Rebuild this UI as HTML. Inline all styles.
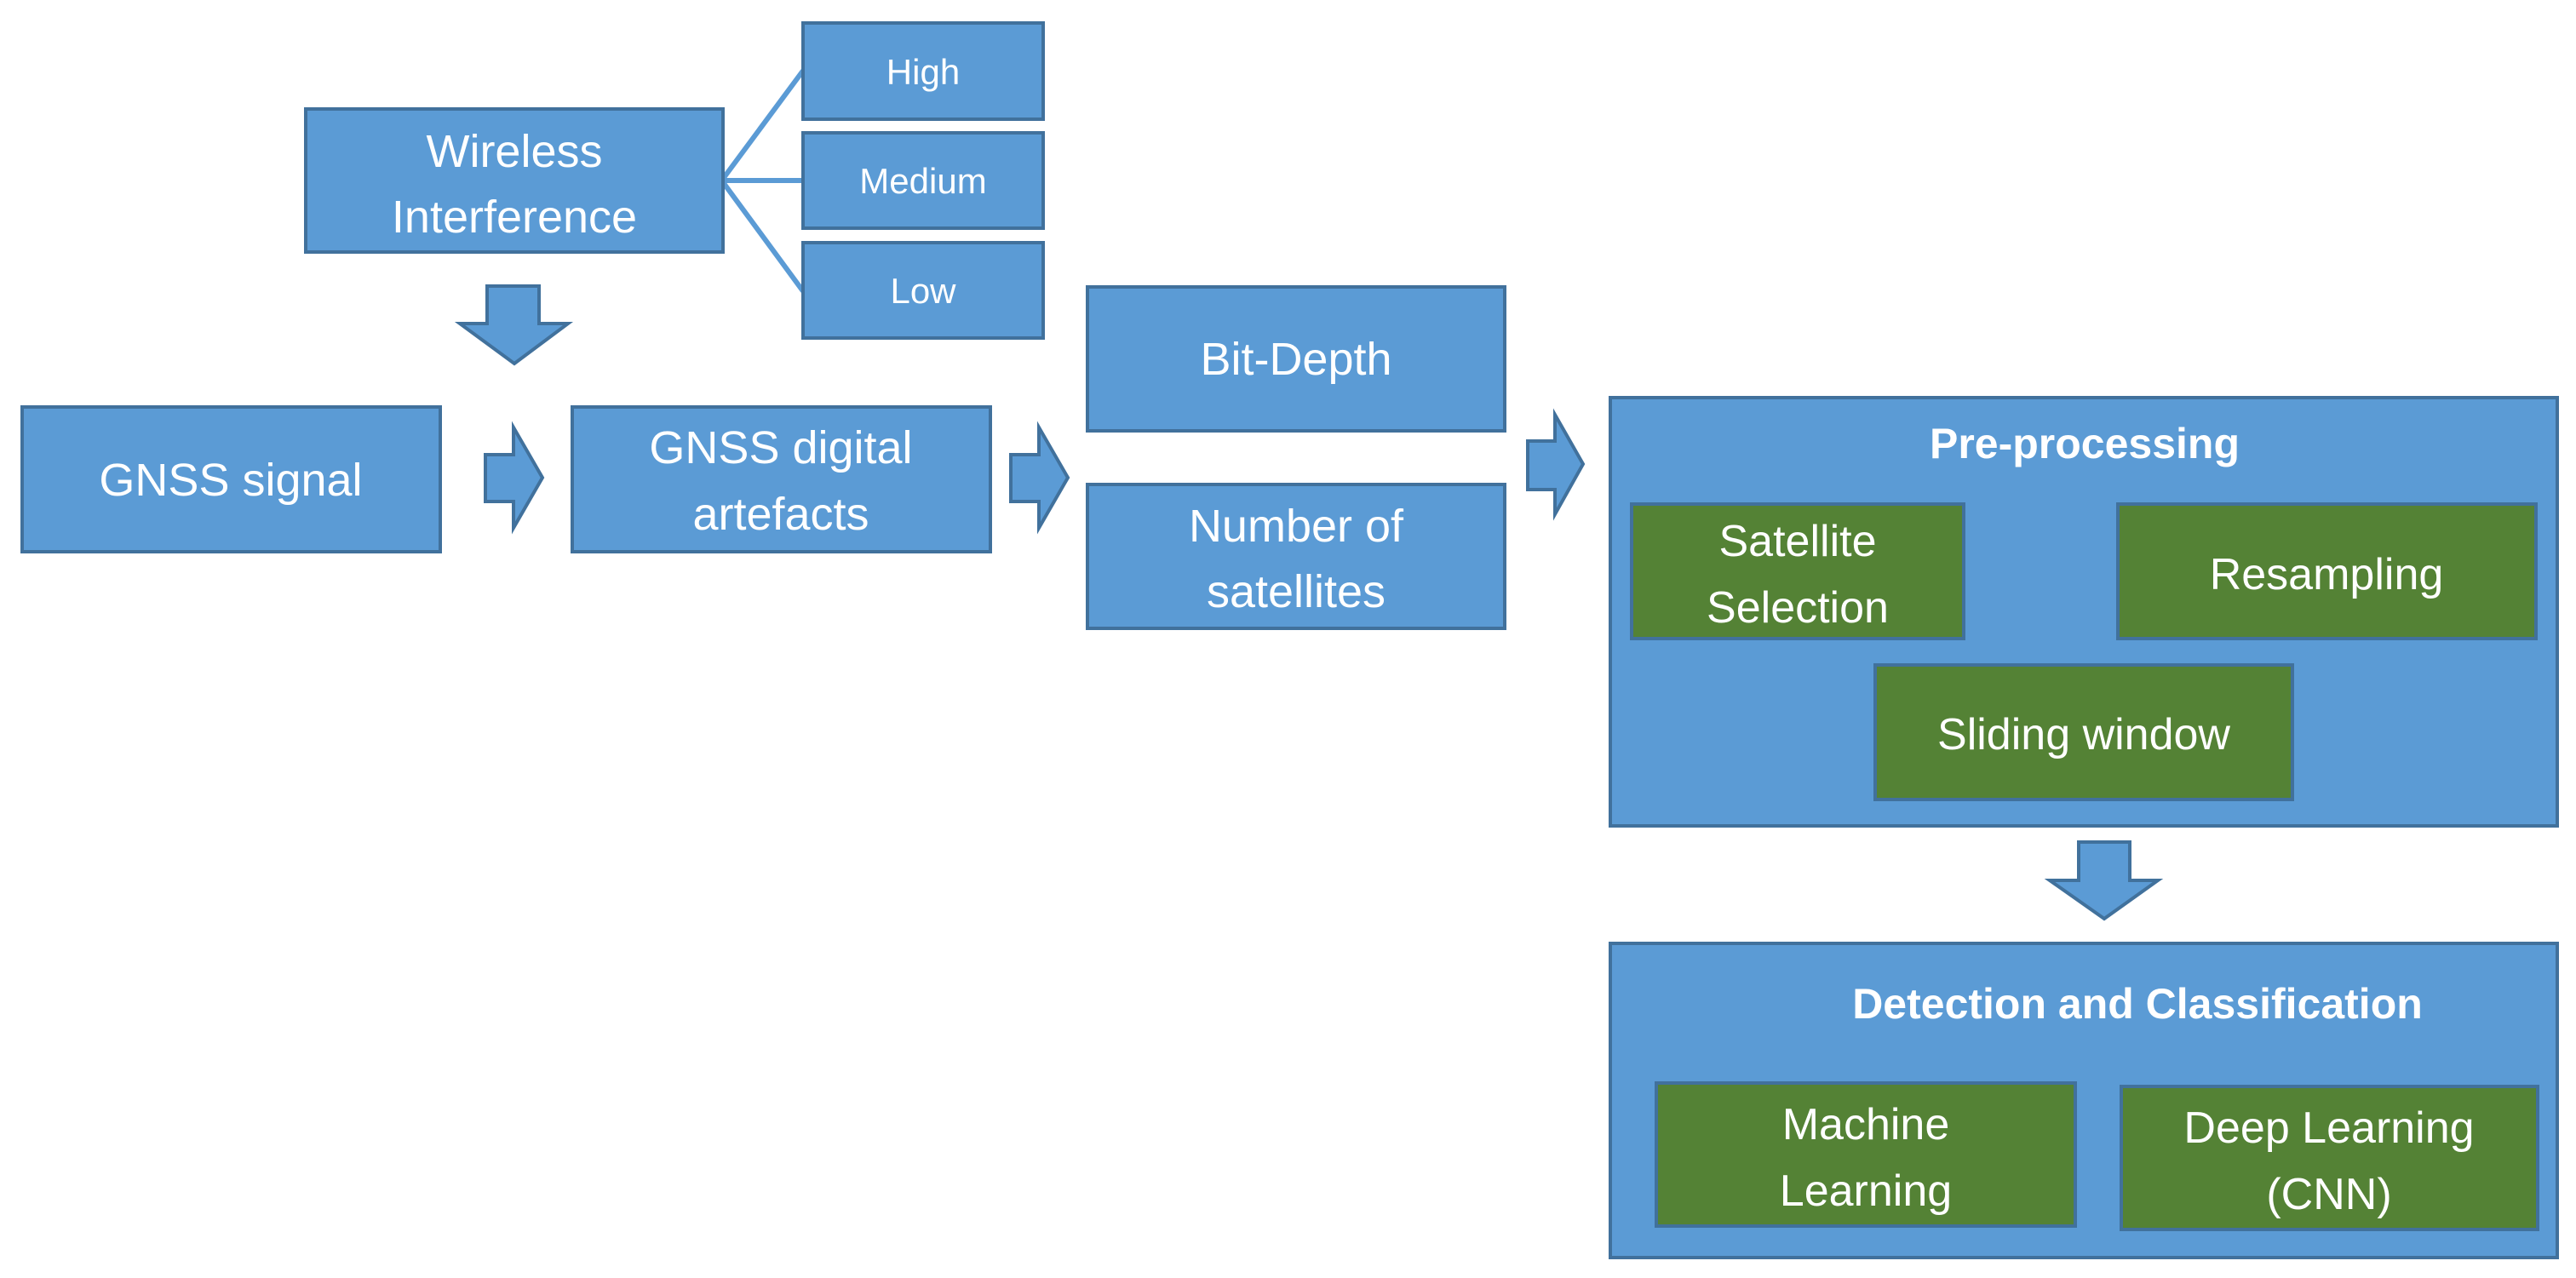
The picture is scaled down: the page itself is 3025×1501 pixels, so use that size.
<!DOCTYPE html>
<html><head><meta charset="utf-8"><style>
html,body{margin:0;padding:0;background:#fff;}
svg{display:block;}
text{font-family:"Liberation Sans",sans-serif;fill:#fff;text-anchor:middle;}
.b{fill:#5B9BD5;stroke:#41719C;stroke-width:4;}
.g{fill:#548235;stroke:#41719C;stroke-width:4;}
</style></head><body>
<svg width="3025" height="1501" viewBox="0 0 3025 1501" xmlns="http://www.w3.org/2000/svg">
<!-- connector lines -->
<g stroke="#5B9BD5" stroke-width="6" fill="none">
<line x1="849" y1="210" x2="943" y2="83"/>
<line x1="849" y1="212" x2="943" y2="212"/>
<line x1="849" y1="214" x2="943" y2="342"/>
</g>
<!-- Wireless -->
<rect class="b" x="359" y="128" width="490" height="168"/>
<text x="604" y="196" font-size="54">Wireless</text>
<text x="604" y="273" font-size="54">Interference</text>
<rect class="b" x="943" y="27" width="282" height="113"/>
<text x="1084" y="99" font-size="42">High</text>
<rect class="b" x="943" y="156" width="282" height="112"/>
<text x="1084" y="227" font-size="42">Medium</text>
<rect class="b" x="943" y="285" width="282" height="112"/>
<text x="1084" y="356" font-size="42">Low</text>
<!-- down arrow 1 -->
<polygon class="b" stroke-width="3" points="572,336 633,336 633,380 667,380 604,427 540,380 572,380"/>
<!-- GNSS signal -->
<rect class="b" x="26" y="478" width="491" height="170"/>
<text x="271" y="582" font-size="54">GNSS signal</text>
<!-- arrow right 1 -->
<polygon class="b" stroke-width="3" points="570,534 603,534 603,502 637,561 603,620 603,589 570,589"/>
<!-- GNSS digital -->
<rect class="b" x="672" y="478" width="491" height="170"/>
<text x="917" y="544" font-size="54">GNSS digital</text>
<text x="917" y="622" font-size="54">artefacts</text>
<!-- arrow right 2 -->
<polygon class="b" stroke-width="3" points="1187,534 1220,534 1220,502 1254,561 1220,620 1220,589 1187,589"/>
<!-- Bit depth / number -->
<rect class="b" x="1277" y="337" width="490" height="169"/>
<text x="1522" y="440" font-size="54">Bit-Depth</text>
<rect class="b" x="1277" y="569" width="490" height="169"/>
<text x="1522" y="636" font-size="54">Number of</text>
<text x="1522" y="713" font-size="54">satellites</text>
<!-- arrow right 3 -->
<polygon class="b" stroke-width="3" points="1794,518 1826,518 1826,487 1859,545 1826,604 1826,575 1794,575"/>
<!-- Pre-processing -->
<rect class="b" x="1891" y="467" width="1112" height="503"/>
<text x="2448" y="538" font-size="50" font-weight="bold">Pre-processing</text>
<rect class="g" x="1916" y="592" width="390" height="158"/>
<text x="2111" y="653" font-size="52">Satellite</text>
<text x="2111" y="731" font-size="52">Selection</text>
<rect class="g" x="2487" y="592" width="491" height="158"/>
<text x="2732" y="692" font-size="52">Resampling</text>
<rect class="g" x="2202" y="781" width="490" height="158"/>
<text x="2447" y="880" font-size="52">Sliding window</text>
<!-- down arrow 2 -->
<polygon class="b" stroke-width="3" points="2441,989 2501,989 2501,1034 2534,1034 2471,1079 2407,1034 2441,1034"/>
<!-- Detection -->
<rect class="b" x="1891" y="1108" width="1112" height="369"/>
<text x="2510" y="1196" font-size="50" font-weight="bold">Detection and Classification</text>
<rect class="g" x="1945" y="1272" width="492" height="168"/>
<text x="2191" y="1338" font-size="52">Machine</text>
<text x="2191" y="1416" font-size="52">Learning</text>
<rect class="g" x="2491" y="1276" width="489" height="168"/>
<text x="2735" y="1342" font-size="52">Deep Learning</text>
<text x="2735" y="1420" font-size="52">(CNN)</text>
</svg>
</body></html>
